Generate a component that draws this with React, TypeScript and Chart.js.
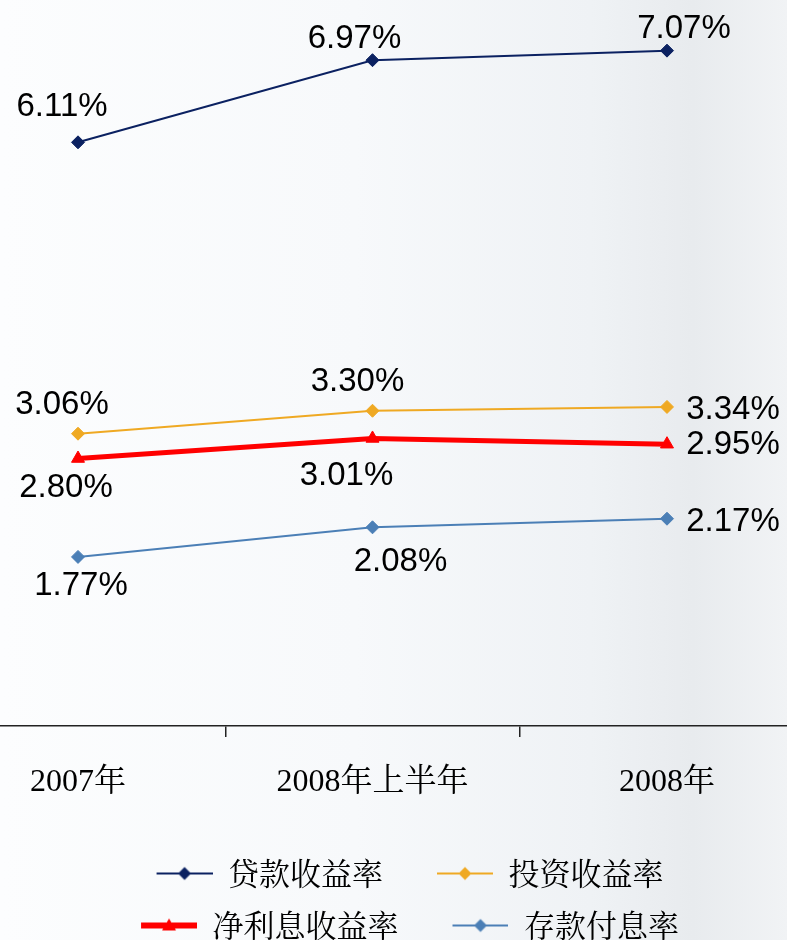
import React, { useEffect, useRef } from "react";
import { Chart, registerables } from "chart.js";

Chart.register(...registerables);

// ---- data ----
const categories = ["2007年", "2008年上半年", "2008年"];
const seriesNames = ["贷款收益率", "投资收益率", "净利息收益率", "存款付息率"];
const loanYield = [6.11, 6.97, 7.07];
const investmentYield = [3.06, 3.3, 3.34];
const netInterestMargin = [2.8, 3.01, 2.95];
const depositCost = [1.77, 2.08, 2.17];

// ---- styles ----
const colors = ["#0b2161", "#efa923", "#ff0000", "#4b7fb6"];
const lineWidths = [2, 2, 5, 2];
const pointStyles = ["rectRot", "rectRot", "triangle", "rectRot"];
const pointRadii = [6.5, 6.5, 7.5, 6.5];
// label centre offsets relative to each point (px)
const labelOffsets = [
  [[-16, -38], [-18, -24], [17, -25]],
  [[-16, -32], [-15, -32], [66, 0]],
  [[-12, 26], [-26, 34], [66, -2]],
  [[3, 26], [28, 32], [66, 0]],
];

function makeLegendIcon(color: string, lw: number, style: string) {
  const c = document.createElement("canvas");
  c.width = 89;
  c.height = 20;
  const ctx = c.getContext("2d")!;
  ctx.strokeStyle = color;
  ctx.fillStyle = color;
  ctx.lineWidth = lw;
  ctx.beginPath();
  ctx.moveTo(33, 10);
  ctx.lineTo(89, 10);
  ctx.stroke();
  const cx = 61;
  const cy = 10;
  ctx.beginPath();
  if (style === "triangle") {
    ctx.moveTo(cx, cy - 7);
    ctx.lineTo(cx + 7, cy + 5);
    ctx.lineTo(cx - 7, cy + 5);
  } else {
    ctx.moveTo(cx, cy - 6.5);
    ctx.lineTo(cx + 6.5, cy);
    ctx.lineTo(cx, cy + 6.5);
    ctx.lineTo(cx - 6.5, cy);
  }
  ctx.closePath();
  ctx.fill();
  return c;
}

const dataLabelPlugin = {
  id: "dataLabels",
  afterDatasetsDraw(chart: any) {
    const ctx = chart.ctx;
    ctx.save();
    ctx.font = "33px 'Liberation Sans', Arial, sans-serif";
    ctx.fillStyle = "#000";
    ctx.textAlign = "center";
    ctx.textBaseline = "middle";
    chart.data.datasets.forEach((ds: any, s: number) => {
      const meta = chart.getDatasetMeta(s);
      meta.data.forEach((el: any, i: number) => {
        const v = ds.data[i].y;
        const [dx, dy] = labelOffsets[s][i];
        ctx.fillText(v.toFixed(2) + "%", el.x + dx, el.y + dy + 3);
      });
    });
    ctx.restore();
  },
};

export default function App() {
  const ref = useRef<HTMLCanvasElement | null>(null);

  useEffect(() => {
    document.body.style.margin = "0";
    document.body.style.overflow = "hidden";
    const series = [loanYield, investmentYield, netInterestMargin, depositCost];
    const icons = series.map((_, s) => makeLegendIcon(colors[s], s === 2 ? 6 : 2, pointStyles[s]));
    const tickValues = [0, 0.5, 1, 1.5, 2];

    const chart = new Chart(ref.current!, {
      type: "line",
      data: {
        datasets: series.map((vals, s) => ({
          label: seriesNames[s],
          data: vals.map((v, i) => ({ x: i, y: v })),
          borderColor: colors[s],
          backgroundColor: colors[s],
          borderWidth: lineWidths[s],
          pointStyle: pointStyles[s] as any,
          pointRadius: pointRadii[s],
          pointBorderWidth: 1,
          pointBorderColor: colors[s],
          pointBackgroundColor: colors[s],
          tension: 0,
          fill: false,
          clip: false,
        })),
      },
      options: {
        animation: false,
        responsive: false,
        events: [],
        layout: { padding: 0, autoPadding: false },
        plugins: {
          tooltip: { enabled: false },
          legend: {
            position: "bottom",
            maxWidth: 760,
            labels: {
              usePointStyle: true,
              pointStyleWidth: 89,
              padding: 21,
              color: "#000",
              font: { size: 31, family: "'Noto Serif CJK SC', 'Noto Sans CJK SC', serif" },
              generateLabels: () =>
                seriesNames.map((name, s) => ({
                  text: name,
                  pointStyle: icons[s] as any,
                  fillStyle: colors[s],
                  strokeStyle: colors[s],
                  lineWidth: 0,
                  hidden: false,
                  datasetIndex: s,
                })),
            },
          },
        },
        scales: {
          x: {
            type: "linear",
            min: -0.2649,
            max: 2.4075,
            afterBuildTicks: (scale: any) => {
              scale.ticks = tickValues.map((v) => ({ value: v }));
            },
            afterFit: (scale: any) => {
              scale.height = 111;
            },
            ticks: {
              autoSkip: false,
              maxRotation: 0,
              minRotation: 0,
              padding: 26,
              color: "#000",
              font: { size: 32, family: "'Liberation Serif', 'Noto Serif CJK SC', 'Noto Sans CJK SC', serif" },
              callback: (v: any) => (Number.isInteger(v) ? categories[v] : ""),
            },
            grid: {
              drawOnChartArea: false,
              drawTicks: true,
              tickLength: 11,
              lineWidth: 1.5,
              color: (c: any) =>
                c.tick && !Number.isInteger(c.tick.value) ? "#222" : "rgba(0,0,0,0)",
            },
            border: { display: true, color: "#222", width: 1.5 },
          },
          y: {
            display: false,
            min: 0,
            max: 7.6,
          },
        },
      },
      plugins: [dataLabelPlugin],
    } as any);

    return () => chart.destroy();
  }, []);

  return (
    <div
      style={{
        width: 787,
        height: 940,
        overflow: "hidden",
        position: "relative",
        background:
          "linear-gradient(90deg, #fcfdfe 0%, #f7f9fb 45%, #eff2f5 75%, #e8ebee 88%, #f1f3f5 100%)",
      }}
    >
      <canvas ref={ref} width={787} height={951} style={{ display: "block" }} />
    </div>
  );
}
